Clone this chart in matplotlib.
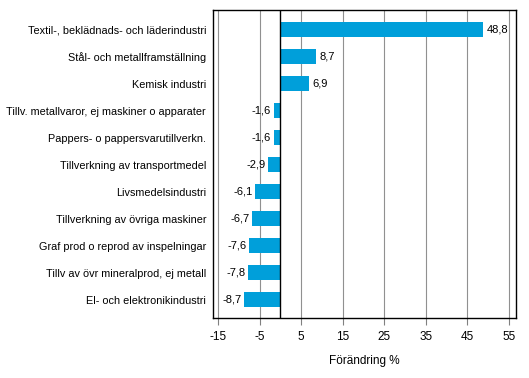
import matplotlib.pyplot as plt
import numpy as np

# Data
kategorier = ["Textil-, beklädnads- och läderindustri",
              "Stål- och metallframställning",
              "Kemisk industri",
              "Tillv. metallvaror, ej maskiner o apparater",
              "Pappers- o pappersvarutillverkn.",
              "Tillverkning av transportmedel",
              "Livsmedelsindustri",
              "Tillverkning av övriga maskiner",
              "Graf prod o reprod av inspelningar",
              "Tillv av övr mineralprod, ej metall",
              "El- och elektronikindustri"]
varden = [48.8, 8.7, 6.9, -1.6, -1.6, -2.9, -6.1, -6.7, -7.6, -7.8, -8.7]
xticks = [-15, -5, 5, 15, 25, 35, 45, 55]

plt.rcParams['font.family'] = ['Liberation Sans', 'DejaVu Sans']
plt.rcParams['font.size'] = 7.8

fig = plt.figure(figsize=(5.29, 3.78), dpi=100)
ax = fig.add_axes([0.4026, 0.1587, 0.5728, 0.8148])

y = np.arange(len(kategorier))
ax.barh(y, varden, height=0.55, color="#009fda", zorder=3)
ax.axvline(0, color="black", linewidth=1, zorder=4)

for yi, v in zip(y, varden):
    txt = f"{v:.1f}".replace(".", ",")
    if v >= 0:
        ax.text(v + 0.8, yi, txt, va="center", ha="left", fontsize=8)
    else:
        ax.text(v - 0.6, yi, txt, va="center", ha="right", fontsize=8)

ax.set_xlim(-16.2, 56.7)
ax.set_ylim(10.67, -0.72)
ax.set_xticks(xticks)
ax.set_xticklabels([str(t) for t in xticks])
ax.set_yticks(y)
ax.set_yticklabels(kategorier)
ax.tick_params(axis="y", length=0, pad=5)
ax.tick_params(axis="x", length=5, width=0.8, color="#808080", pad=4, labelsize=8.5)
ax.grid(axis="x", color="#909090", linewidth=0.8, zorder=0)
for s in ax.spines.values():
    s.set_color("black")
    s.set_linewidth(1)
ax.set_xlabel("Förändring %", labelpad=9, fontsize=8.5)

plt.savefig("out.png", dpi=100)
